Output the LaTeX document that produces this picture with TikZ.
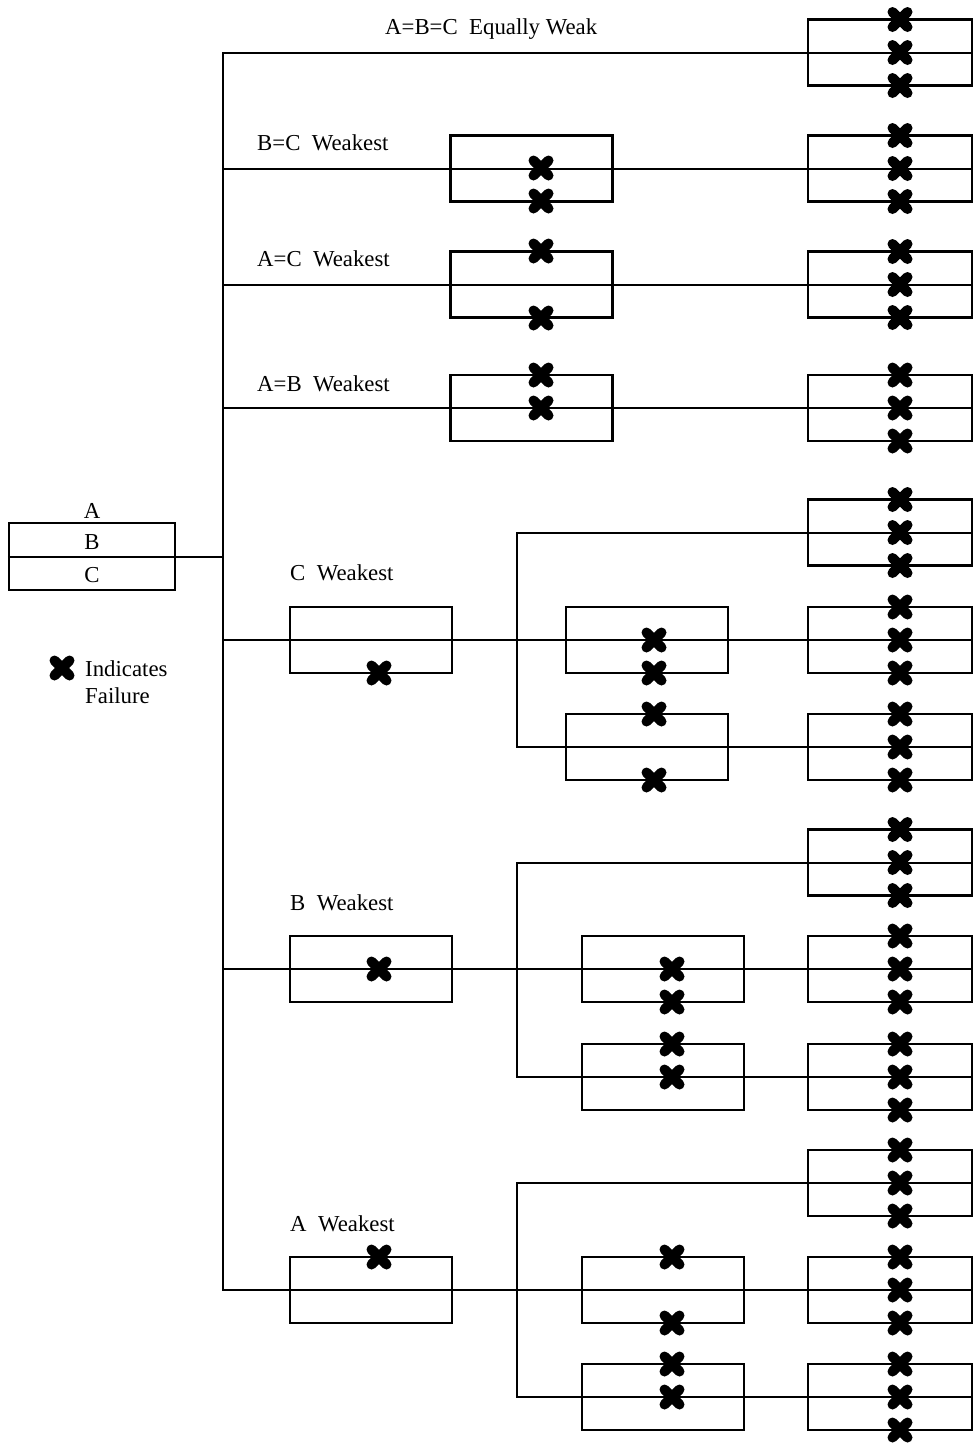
\documentclass[tikz,border=0pt]{standalone}
\usepackage{fontspec}
\setmainfont{Liberation Serif}
\begin{document}
\begin{tikzpicture}[x=1pt,y=-1pt,
  box/.style={draw,line width=2.2pt,minimum width=162pt,minimum height=66pt,inner sep=0pt},
  wire/.style={line width=2pt,line join=miter},
  lbl/.style={anchor=base west,inner sep=0pt,font=\fontsize{22.8}{27}\selectfont},
  failx/.pic={\draw[line width=10pt,line cap=round] (-7.5,-7.5)--(7.5,7.5) (-7.5,7.5)--(7.5,-7.5);}]
\useasboundingbox[fill=white] (0,0) rectangle (973,1444);

% left laminate box
\node[box,minimum width=166pt,minimum height=67pt] (lb) at (92,556.5) {};
\draw[wire] (lb.west) -- (lb.east);
\node[lbl,anchor=base] (la) at (92,518) {A};
\node[lbl,anchor=base] (lbB) at (92,549) {B};
\node[lbl,anchor=base] (lcC) at (92,582) {C};

% legend
\pic at (62,668) {failx};
\node[lbl] (leg1) at (85,676) {Indicates};
\node[lbl] (leg2) at (85,703) {Failure};

% right column boxes
\foreach \n/\y in {r1/52.5,r2/168.5,r3/284.5,r4/408,r5a/532.5,r5b/640,r5c/747,r6a/862.5,r6b/969,r6c/1077,r7a/1183,r7b/1290,r7c/1397}{
  \node[box,minimum width=164pt] (\n) at (890,\y) {};
  \pic at (900,\y-33) {failx};
  \pic at (900,\y) {failx};
  \pic at (900,\y+33) {failx};
}

% second-stage boxes rows 2-4
\node[box] (m2) at (531.5,168.5) {};
\node[box] (m3) at (531.5,284.5) {};
\node[box] (m4) at (531.5,408) {};
\pic at (541,168) {failx}; \pic at (541,201) {failx};
\pic at (541,251) {failx}; \pic at (541,318) {failx};
\pic at (541,375) {failx}; \pic at (541,408) {failx};

% first-stage boxes rows 5-7
\node[box] (f5) at (371,640) {};
\node[box] (f6) at (371,969) {};
\node[box] (f7) at (371,1290) {};
\pic at (379,673) {failx};
\pic at (379,969) {failx};
\pic at (379,1257) {failx};

% second-stage boxes rows 5-7
\node[box] (s5b) at (647,640) {};
\node[box] (s5c) at (647,747) {};
\pic at (654,640) {failx}; \pic at (654,673) {failx};
\pic at (654,714) {failx}; \pic at (654,780) {failx};
\node[box] (s6b) at (663,969) {};
\node[box] (s6c) at (663,1077) {};
\pic at (672,969) {failx}; \pic at (672,1002) {failx};
\pic at (672,1044) {failx}; \pic at (672,1077) {failx};
\node[box] (s7b) at (663,1290) {};
\node[box] (s7c) at (663,1397) {};
\pic at (672,1257) {failx}; \pic at (672,1323) {failx};
\pic at (672,1364) {failx}; \pic at (672,1397) {failx};

% trunk and branches
\coordinate (t0) at (223,556.5);
\draw[wire] (r1.east) -- (223,52.5) -- (223,1290) -- (r7b.east);
\draw[wire] (lb.east) -- (t0);
\draw[wire] (223,168.5) -- (r2.east);
\draw[wire] (223,284.5) -- (r3.east);
\draw[wire] (223,408) -- (r4.east);
\draw[wire] (223,640) -- (r5b.east);
\draw[wire] (223,969) -- (r6b.east);
\draw[wire] (r5a.east) -- (517,532.5) -- (517,747) -- (r5c.east);
\draw[wire] (r6a.east) -- (517,862.5) -- (517,1077) -- (r6c.east);
\draw[wire] (r7a.east) -- (517,1183) -- (517,1397) -- (r7c.east);

% labels
\node[lbl] (l1) at (385,34) {A=B=C\ \ Equally Weak};
\node[lbl] (l2) at (257,150) {B=C\ \ Weakest};
\node[lbl] (l3) at (257,266) {A=C\ \ Weakest};
\node[lbl] (l4) at (257,391) {A=B\ \ Weakest};
\node[lbl] (l5) at (290,580) {C\ \ Weakest};
\node[lbl] (l6) at (290,910) {B\ \ Weakest};
\node[lbl] (l7) at (290,1231) {A\ \ Weakest};
\end{tikzpicture}
\end{document}
